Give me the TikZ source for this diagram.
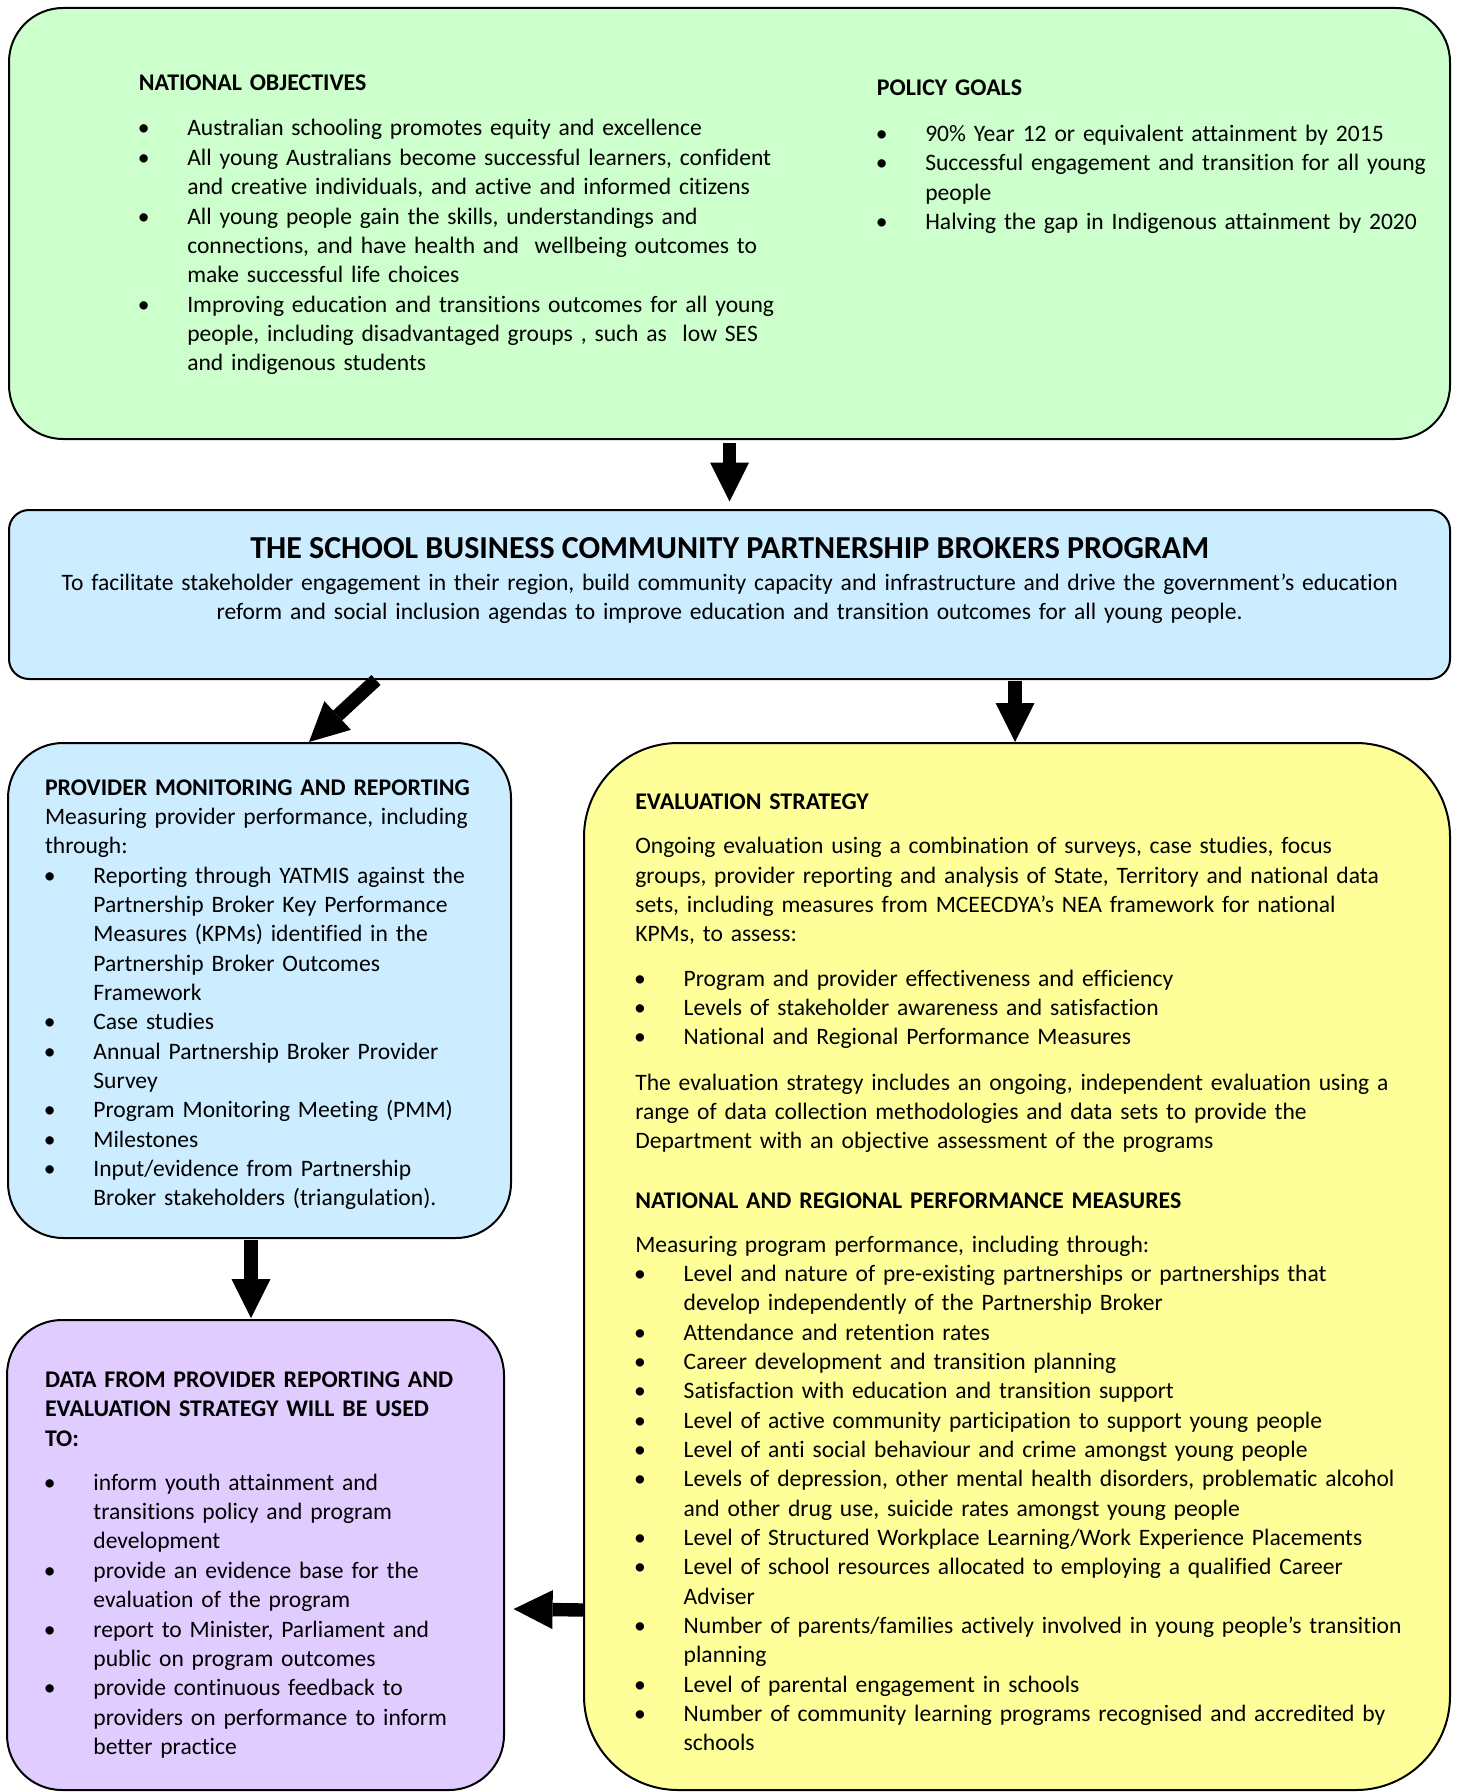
\documentclass[tikz,border=0pt]{standalone}
\usepackage{fontspec}
\setmainfont{Carlito}[Ligatures={NoCommon}]
\usetikzlibrary{arrows.meta,calc}
\definecolor{gfill}{RGB}{204,255,204}
\definecolor{bfill}{RGB}{204,236,255}
\definecolor{yfill}{RGB}{255,255,153}
\definecolor{pfill}{RGB}{225,204,255}
\newcommand\fs{\fontsize{11.78pt}{14.67pt}\selectfont}
\newcommand\hd[1]{{\fontsize{11.95pt}{14.67pt}\selectfont\bfseries #1}}
\newcommand\bu{\makebox[24.2pt][l]{\hspace*{2.4pt}\makebox[0pt]{\textbullet}}}
\newcommand\ct{\hspace*{24.2pt}}
\tikzset{
  box/.style={draw=black, line width=1pt, inner sep=0pt},
  txt/.style={anchor=base west, inner sep=0pt, text width=420pt, align=left, font=\fs},
  arr/.style={line width=6.7pt, -{Triangle[width=19.5pt,length=19.5pt,line width=0pt]}},
}
\begin{document}
\begin{tikzpicture}[x=0.5pt,y=-0.5pt]
\useasboundingbox (0,0) rectangle (1456,1792);
% boxes
\node[box, fill=gfill, minimum width=720.5pt, minimum height=215.5pt, rounded corners=27pt] (obj) at (729.5,223.5) {};
\node[box, fill=bfill, minimum width=720.5pt, minimum height=84.5pt, rounded corners=10pt] (prog) at (729.5,594.5) {};
\node[box, fill=bfill, minimum width=251.5pt, minimum height=247.5pt, rounded corners=27.5pt] (prov) at (259.5,990.5) {};
\node[box, fill=yfill, minimum width=433pt, minimum height=523.5pt, rounded corners=47pt] (eval) at (1017,1266.5) {};
\node[box, fill=pfill, minimum width=248.5pt, minimum height=235pt, rounded corners=27.5pt] (use) at (255.5,1555) {};
% arrows
\draw[arr] ($(obj.south)+(0,3)$) -- ($(prog.north)+(0,-7.5)$);
\draw[arr] ($(prog.south west)+(368,0)$) -- ($(prov.north west)+(302,0)$);
\draw[arr] ($(prog.south west)+(1007,1)$) -- ($(eval.north west)+(432,0)$);
\draw[arr] ($(prov.south west)+(244,1)$) -- ($(use.north west)+(245,-1)$);
\draw[arr] ($(eval.south west)+(0,-181)$) -- ($(use.east)+(8.6,54)$);
% green box text
\node[txt] (nobjh) at (138.5,90.7) {\hd{NATIONAL OBJECTIVES}};
\node[txt] (nobjl) at (138.5,136) {\bu Australian schooling promotes equity and excellence\\
\bu All young Australians become successful learners, confident\\
\ct and creative individuals, and active and informed citizens\\
\bu All young people gain the skills, understandings and\\
\ct connections, and have health and~ wellbeing outcomes to\\
\ct make successful life choices\\
\bu Improving education and transitions outcomes for all young\\
\ct people, including disadvantaged groups , such as~ low SES\\
\ct and indigenous students};
\node[txt] (polh) at (876.5,95.5) {\hd{POLICY GOALS}};
\node[txt] (poll) at (876.5,141.5) {\bu 90\% Year 12 or equivalent attainment by 2015\\
\bu Successful engagement and transition for all young\\
\ct people\\
\bu Halving the gap in Indigenous attainment by 2020};
% blue program box
\node[anchor=base, inner sep=0pt, font=\bfseries\fontsize{16pt}{19pt}\selectfont] (title) at (729.7,558.5) {THE SCHOOL BUSINESS COMMUNITY PARTNERSHIP BROKERS PROGRAM};
\node[anchor=base, inner sep=0pt, text width=700pt, align=center, font=\fs] (sub) at (729.7,590) {To facilitate stakeholder engagement in their region, build community capacity and infrastructure and drive the government’s education\\
reform and social inclusion agendas to improve education and transition outcomes for all young people.};
% provider box
\node[txt] (provt) at (44.6,795) {\hd{PROVIDER MONITORING AND REPORTING}\\
Measuring provider performance, including\\
through:\\
\bu Reporting through YATMIS against the\\
\ct Partnership Broker Key Performance\\
\ct Measures (KPMs) identified in the\\
\ct Partnership Broker Outcomes\\
\ct Framework\\
\bu Case studies\\
\bu Annual Partnership Broker Provider\\
\ct Survey\\
\bu Program Monitoring Meeting (PMM)\\
\bu Milestones\\
\bu Input/evidence from Partnership\\
\ct Broker stakeholders (triangulation).};
% evaluation box
\node[txt] (evh) at (634.9,809) {\hd{EVALUATION STRATEGY}};
\node[txt] (evp) at (634.9,853.7) {Ongoing evaluation using a combination of surveys, case studies, focus\\
groups, provider reporting and analysis of State, Territory and national data\\
sets, including measures from MCEECDYA’s NEA framework for national\\
KPMs, to assess:};
\node[txt] (evl) at (634.9,986.3) {\bu Program and provider effectiveness and efficiency\\
\bu Levels of stakeholder awareness and satisfaction\\
\bu National and Regional Performance Measures};
\node[txt] (evq) at (634.9,1090.3) {The evaluation strategy includes an ongoing, independent evaluation using a\\
range of data collection methodologies and data sets to provide the\\
Department with an objective assessment of the programs};
\node[txt] (nrh) at (634.9,1208) {\hd{NATIONAL AND REGIONAL PERFORMANCE MEASURES}};
\node[txt] (nrl) at (634.9,1252) {Measuring program performance, including through:\\
\bu Level and nature of pre-existing partnerships or partnerships that\\
\ct develop independently of the Partnership Broker\\
\bu Attendance and retention rates\\
\bu Career development and transition planning\\
\bu Satisfaction with education and transition support\\
\bu Level of active community participation to support young people\\
\bu Level of anti social behaviour and crime amongst young people\\
\bu Levels of depression, other mental health disorders, problematic alcohol\\
\ct and other drug use, suicide rates amongst young people\\
\bu Level of Structured Workplace Learning/Work Experience Placements\\
\bu Level of school resources allocated to employing a qualified Career\\
\ct Adviser\\
\bu Number of parents/families actively involved in young people’s transition\\
\ct planning\\
\bu Level of parental engagement in schools\\
\bu Number of community learning programs recognised and accredited by\\
\ct schools};
% data use box
\node[txt] (useh) at (44.6,1387.5) {\hd{DATA FROM PROVIDER REPORTING AND}\\
\hd{EVALUATION STRATEGY WILL BE USED}\\
\hd{TO:}};
\node[txt] (usel) at (44.6,1490.3) {\bu inform youth attainment and\\
\ct transitions policy and program\\
\ct development\\
\bu provide an evidence base for the\\
\ct evaluation of the program\\
\bu report to Minister, Parliament and\\
\ct public on program outcomes\\
\bu provide continuous feedback to\\
\ct providers on performance to inform\\
\ct better practice};
\end{tikzpicture}
\end{document}
